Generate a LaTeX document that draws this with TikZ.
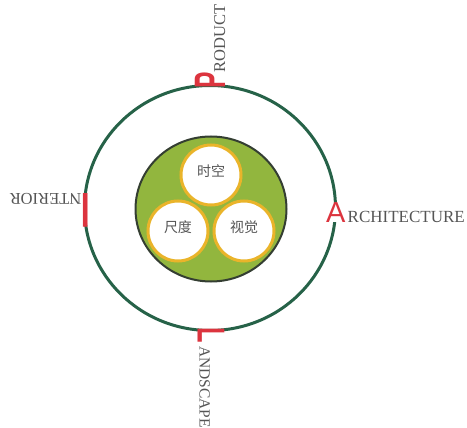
\documentclass[tikz,border=0pt]{standalone}
\usepackage{fontspec}
\setmainfont{Liberation Serif}
\newfontfamily\initialfont{Liberation Sans}
\newfontfamily\cjkfont{Noto Sans CJK SC}
\usepackage{xcolor}
\usetikzlibrary{calc, positioning}

\definecolor{ringgreen}{RGB}{38,98,72}
\definecolor{coreline}{RGB}{52,62,50}
\definecolor{initred}{RGB}{220,52,62}
\definecolor{leafgreen}{RGB}{146,182,62}
\definecolor{rimgold}{RGB}{234,180,42}
\definecolor{wordgray}{RGB}{85,85,85}

\tikzset{
  word/.style={font=\fontsize{16.5}{16.5}\selectfont, text=wordgray, inner sep=0pt},
  initial/.style={text=initred, inner sep=0pt},
  petal/.style={circle, fill=white, draw=rimgold, line width=3pt,
    minimum size=60pt, inner sep=0pt, text=wordgray, text depth=9pt,
    font=\cjkfont\fontsize{14}{14}\selectfont}
}

\begin{document}
\begin{tikzpicture}[x=1pt, y=-1pt]
    \useasboundingbox (0,0) rectangle (467,428);
    % outer ring
    \draw[ringgreen, line width=3pt] (210,208) ellipse [x radius=125.5, y radius=122.5];

    % core with three circles
    \draw[coreline, line width=2pt, fill=leafgreen] (211,209) ellipse [x radius=75.5, y radius=72.5];
    \node[petal] (shikong) at (211,175) {时空};
    \node[petal] (chidu)   at (178,231) {尺度};
    \node[petal] (shijue)  at (244,231) {视觉};

    % top: product
    \node[initial, rotate=90, anchor=base west, font=\initialfont\bfseries\fontsize{44}{44}\selectfont]
        (P) at (225,88.5) {\scalebox{0.56}[1]{P}};
    \node[word, rotate=90, anchor=base west] (product) at (225,72.5) {RODUCT};

    % right: architecture
    \node[initial, anchor=base west, fill=white, font=\initialfont\fontsize{29}{29}\selectfont]
        (A) at (326,222.5) {A};
    \node[word, anchor=base west, font=\fontsize{17}{17}\selectfont] (architecture) at (347.5,222.5) {RCHITECTURE};

    % left: interior
    \node[initial, rotate=180, font=\initialfont\fontsize{49}{49}\selectfont] (I) at (85.5,210.5) {\makebox[4.5pt]{I}};
    \node[word, rotate=180, anchor=base west] (interior) at (81.5,194) {NTERIOR};

    % bottom: landscape
    \node[initial, rotate=-90, anchor=base west, font=\initialfont\bfseries\fontsize{39}{39}\selectfont]
        (L) at (197.5,327) {\scalebox{0.65}[1]{L}};
    \node[word, rotate=-90, anchor=base west, font=\fontsize{15.5}{15.5}\selectfont] (landscape) at (199.5,346) {ANDSCAPE};
\end{tikzpicture}
\end{document}
